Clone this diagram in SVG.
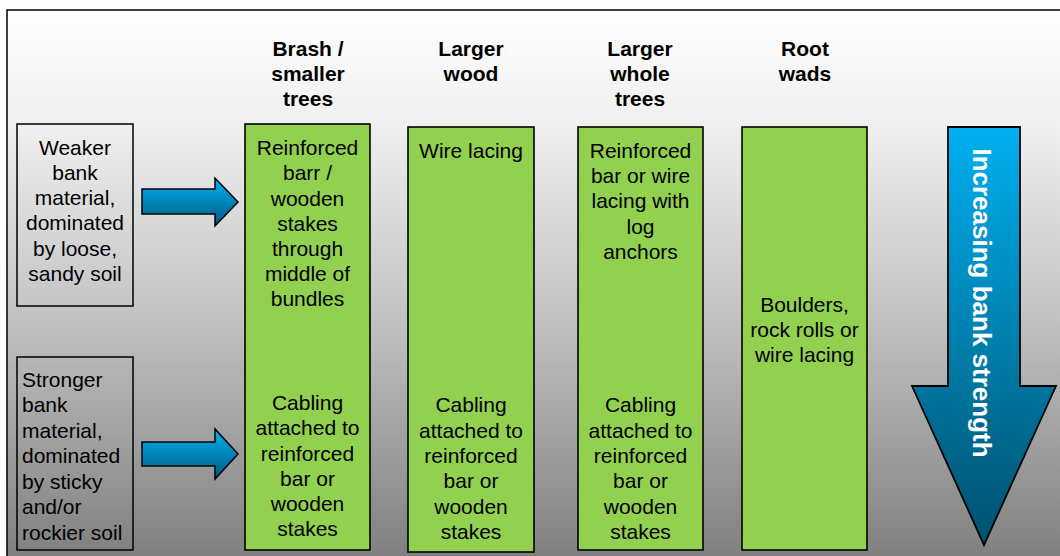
<svg xmlns="http://www.w3.org/2000/svg" width="1060" height="556" viewBox="0 0 1060 556">
  <defs>
    <linearGradient id="bg" x1="0" y1="0" x2="0" y2="1">
      <stop offset="0" stop-color="#ffffff"/>
      <stop offset="0.2" stop-color="#f0f0f0"/>
      <stop offset="0.55" stop-color="#c2c2c2"/>
      <stop offset="1" stop-color="#7c7c7c"/>
    </linearGradient>
    <linearGradient id="blue" x1="0" y1="0" x2="0" y2="1">
      <stop offset="0" stop-color="#00b0f0"/>
      <stop offset="1" stop-color="#005a80"/>
    </linearGradient>
    <linearGradient id="blueDown" x1="0" y1="0" x2="0" y2="1">
      <stop offset="0" stop-color="#00b0f0"/>
      <stop offset="1" stop-color="#00506e"/>
    </linearGradient>
  </defs>
  <style>
    .frame { fill: url(#bg); stroke: #000; stroke-width: 1.5; }
    .side { fill: none; stroke: #000; stroke-width: 1.5; }
    .green { fill: #92d050; stroke: #000; stroke-width: 1.6; }
    .arrow { fill: url(#blue); stroke: #000; stroke-width: 1.5; }
    .big { fill: url(#blueDown); stroke: #000; stroke-width: 1.8; }
    text { font-family: "Liberation Sans", Arial, sans-serif; font-size: 21px; fill: #000; }
    .c { text-anchor: middle; }
    .h { font-weight: bold; }
    .w { fill: #fff; font-weight: bold; font-size: 26px; }
  </style>
  <rect x="0" y="0" width="1060" height="556" fill="#fff"/>
  <rect class="frame" x="7" y="10" width="1070" height="560"/>

  <g id="headers">
    <text class="c h" x="308" y="56">Brash /</text>
    <text class="c h" x="308" y="81">smaller</text>
    <text class="c h" x="308" y="106">trees</text>
    <text class="c h" x="471" y="56">Larger</text>
    <text class="c h" x="471" y="81">wood</text>
    <text class="c h" x="640" y="56">Larger</text>
    <text class="c h" x="640" y="81">whole</text>
    <text class="c h" x="640" y="106">trees</text>
    <text class="c h" x="805" y="56">Root</text>
    <text class="c h" x="805" y="81">wads</text>
  </g>

  <g id="weaker">
    <rect class="side" x="17" y="124" width="116" height="182"/>
    <text class="c" x="75" y="155">Weaker</text>
    <text class="c" x="75" y="180">bank</text>
    <text class="c" x="75" y="205">material,</text>
    <text class="c" x="75" y="230">dominated</text>
    <text class="c" x="75" y="256">by loose,</text>
    <text class="c" x="75" y="281">sandy soil</text>
  </g>

  <g id="stronger">
    <rect class="side" x="17" y="357" width="116" height="193"/>
    <text x="22" y="387">Stronger</text>
    <text x="22" y="412">bank</text>
    <text x="22" y="438">material,</text>
    <text x="22" y="463">dominated</text>
    <text x="22" y="489">by sticky</text>
    <text x="22" y="514">and/or</text>
    <text x="22" y="540">rockier soil</text>
  </g>

  <g id="brash">
    <rect class="green" x="245" y="124" width="125" height="426"/>
    <text class="c" x="307.5" y="155">Reinforced</text>
    <text class="c" x="307.5" y="180">barr /</text>
    <text class="c" x="307.5" y="206">wooden</text>
    <text class="c" x="307.5" y="231">stakes</text>
    <text class="c" x="307.5" y="256">through</text>
    <text class="c" x="307.5" y="281">middle of</text>
    <text class="c" x="307.5" y="306">bundles</text>
    <text class="c" x="307.5" y="410">Cabling</text>
    <text class="c" x="307.5" y="435">attached to</text>
    <text class="c" x="307.5" y="461">reinforced</text>
    <text class="c" x="307.5" y="486">bar or</text>
    <text class="c" x="307.5" y="511">wooden</text>
    <text class="c" x="307.5" y="536">stakes</text>
  </g>

  <g id="larger-wood">
    <rect class="green" x="408" y="127" width="126" height="425"/>
    <text class="c" x="471" y="158">Wire lacing</text>
    <text class="c" x="471" y="412">Cabling</text>
    <text class="c" x="471" y="438">attached to</text>
    <text class="c" x="471" y="463">reinforced</text>
    <text class="c" x="471" y="488">bar or</text>
    <text class="c" x="471" y="514">wooden</text>
    <text class="c" x="471" y="539">stakes</text>
  </g>

  <g id="larger-whole-trees">
    <rect class="green" x="578" y="127" width="125" height="423"/>
    <text class="c" x="640.5" y="158">Reinforced</text>
    <text class="c" x="640.5" y="183">bar or wire</text>
    <text class="c" x="640.5" y="208">lacing with</text>
    <text class="c" x="640.5" y="234">log</text>
    <text class="c" x="640.5" y="259">anchors</text>
    <text class="c" x="640.5" y="412">Cabling</text>
    <text class="c" x="640.5" y="438">attached to</text>
    <text class="c" x="640.5" y="463">reinforced</text>
    <text class="c" x="640.5" y="488">bar or</text>
    <text class="c" x="640.5" y="514">wooden</text>
    <text class="c" x="640.5" y="539">stakes</text>
  </g>

  <g id="root-wads">
    <rect class="green" x="742" y="127" width="125" height="423"/>
    <text class="c" x="804.5" y="312">Boulders,</text>
    <text class="c" x="804.5" y="337">rock rolls or</text>
    <text class="c" x="804.5" y="362">wire lacing</text>
  </g>

  <g id="strength-arrow">
    <polygon class="big" points="948,127 1020,127 1020,386 1056,386 984,545 912,386 948,386"/>
    <text class="w c" transform="translate(973,303) rotate(90)" x="0" y="0">Increasing bank strength</text>
  </g>

  <g id="connectors">
    <polygon class="arrow" points="142,189 215,189 215,178 238,202 215,226 215,214 142,214"/>
    <polygon class="arrow" points="142,442 215,442 215,429 238,454 215,479 215,466 142,466"/>
  </g>
</svg>
